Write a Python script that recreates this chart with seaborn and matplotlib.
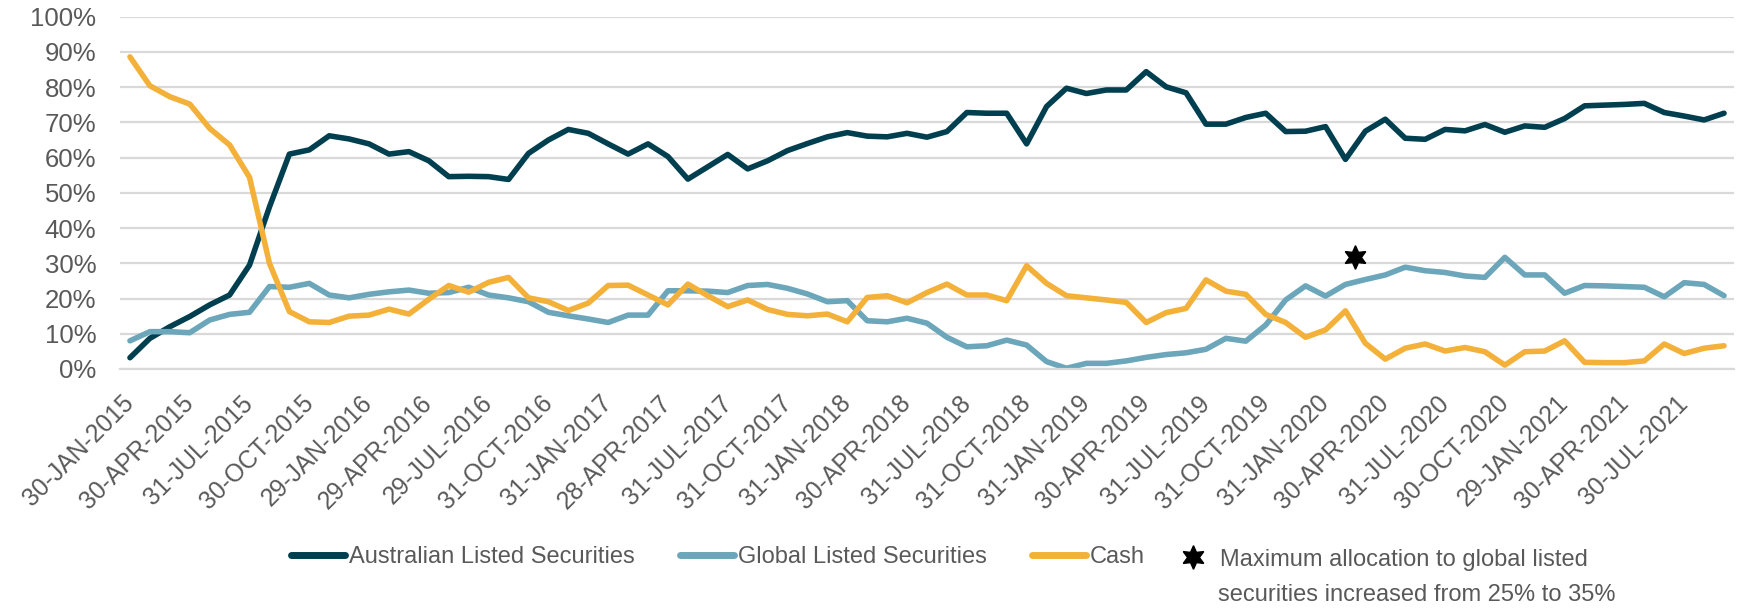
import numpy as np
import pandas as pd
import matplotlib
matplotlib.use('Agg')
import matplotlib.pyplot as plt
from matplotlib.lines import Line2D
from matplotlib.ticker import FixedLocator, PercentFormatter
import seaborn as sns

sns.set_style('white')
plt.rcParams['font.family'] = ['Liberation Sans', 'DejaVu Sans']

# tick labels every 3rd month (monthly data Jan 2015 - Sep 2021)
tick_labels = ['30-JAN-2015', '30-APR-2015', '31-JUL-2015', '30-OCT-2015',
               '29-JAN-2016', '29-APR-2016', '29-JUL-2016', '31-OCT-2016',
               '31-JAN-2017', '28-APR-2017', '31-JUL-2017', '31-OCT-2017',
               '31-JAN-2018', '30-APR-2018', '31-JUL-2018', '31-OCT-2018',
               '31-JAN-2019', '30-APR-2019', '31-JUL-2019', '31-OCT-2019',
               '31-JAN-2020', '30-APR-2020', '31-JUL-2020', '30-OCT-2020',
               '29-JAN-2021', '30-APR-2021', '30-JUL-2021']

# allocations in %
australian = [3.2, 8.7, 12.0, 14.9, 18.2, 21.0, 29.5, 46.0, 61.0, 62.2,
              66.2, 65.3, 63.9, 61.0, 61.7, 59.1, 54.6, 54.7, 54.6, 53.8,
              61.2, 65.0, 68.0, 66.9, 63.9, 61.0, 63.9, 60.3, 53.9, 57.4,
              60.9, 56.8, 59.1, 62.0, 64.0, 65.9, 67.1, 66.1, 65.9, 66.9,
              65.8, 67.4, 72.8, 72.6, 72.6, 63.9, 74.5, 79.7, 78.2, 79.2,
              79.2, 84.4, 80.1, 78.4, 69.5, 69.5, 71.4, 72.6, 67.4, 67.5,
              68.8, 59.5, 67.5, 70.9, 65.5, 65.2, 68.0, 67.6, 69.4, 67.2,
              69.0, 68.6, 71.1, 74.7, 74.9, 75.1, 75.4, 72.8, 71.8, 70.7,
              72.6]
global_ = [8.0, 10.6, 10.6, 10.3, 13.9, 15.5, 16.1, 23.4, 23.2, 24.3,
           21.0, 20.2, 21.2, 21.9, 22.4, 21.5, 21.7, 23.2, 21.0, 20.2,
           19.1, 16.1, 15.1, 14.2, 13.2, 15.3, 15.3, 22.2, 22.2, 22.1,
           21.7, 23.7, 24.0, 22.9, 21.3, 19.1, 19.4, 13.7, 13.4, 14.4,
           13.0, 9.0, 6.3, 6.6, 8.2, 6.8, 2.1, 0.2, 1.6, 1.6,
           2.3, 3.3, 4.1, 4.6, 5.6, 8.7, 7.9, 12.5, 19.6, 23.6,
           20.7, 24.0, 25.4, 26.7, 28.9, 27.9, 27.4, 26.4, 26.0, 31.7,
           26.7, 26.7, 21.5, 23.7, 23.6, 23.4, 23.2, 20.5, 24.5, 24.0,
           20.8]
cash = [88.6, 80.4, 77.3, 75.2, 68.3, 63.6, 54.4, 30.0, 16.3, 13.4,
        13.2, 15.0, 15.3, 17.0, 15.6, 19.8, 23.7, 21.8, 24.6, 26.0,
        20.2, 19.1, 16.6, 18.7, 23.7, 23.8, 21.0, 18.2, 24.1, 20.8,
        17.7, 19.6, 16.9, 15.5, 15.1, 15.6, 13.4, 20.3, 20.8, 18.8,
        21.7, 24.1, 21.0, 21.0, 19.4, 29.3, 24.3, 20.8, 20.2, 19.6,
        18.9, 13.2, 16.0, 17.2, 25.3, 22.1, 21.2, 15.5, 13.2, 9.0,
        11.1, 16.5, 7.3, 2.8, 5.9, 7.1, 5.1, 6.1, 4.9, 1.1,
        4.9, 5.1, 8.0, 1.9, 1.8, 1.8, 2.3, 7.1, 4.4, 5.9,
        6.6]

series_names = ['Australian Listed Securities', 'Global Listed Securities', 'Cash']
colors = ['#003f4f', '#6ca6ba', '#f4b13a']
star_x, star_y = 61.5, 31.7
star_note = ['Maximum allocation to global listed',
             'securities increased from 25% to 35%']

n = len(australian)
df = pd.DataFrame({
    'idx': np.tile(np.arange(n), 3),
    'value': np.concatenate([australian, global_, cash]) / 100,
    'series': np.repeat(series_names, n),
})

text_col = '#595959'
grid_col = '#d9d9d9'
W, H = 1741, 608

def fx(px):
    return px / W

def fy(py):
    return 1 - py / H

fig = plt.figure(figsize=(W / 100, H / 100), dpi=100)
ax = fig.add_axes([fx(120), fy(369), (1734 - 120) / W, (369 - 16.7) / H])

sns.lineplot(data=df, x='idx', y='value', hue='series', palette=colors,
             linewidth=4.0, legend=False, ax=ax)
ax.plot(star_x, star_y / 100, marker=(6, 1, 0), color='black', markersize=17,
        linestyle='none', zorder=5)

ax.set_xlim(-0.5, n - 0.5)
ax.set_ylim(0, 1)
ax.set_xlabel('')
ax.set_ylabel('')

ax.yaxis.set_major_locator(FixedLocator(np.arange(0, 1.01, 0.1)))
ax.yaxis.set_major_formatter(PercentFormatter(1.0, decimals=0))
ax.grid(axis='y', color=grid_col, linewidth=1.6)
ax.set_axisbelow(True)
ax.tick_params(axis='y', length=0, pad=17, labelsize=18.5, labelcolor=text_col)

ax.set_xticks(np.arange(0, n, 3))
ax.set_xticklabels(tick_labels, rotation=45, ha='right', va='center',
                   rotation_mode='anchor')
ax.set_xticks(np.arange(-0.5, n, 1), minor=True)
ax.tick_params(axis='x', which='major', length=0, pad=22, labelsize=17.7,
               labelcolor=text_col)
ax.tick_params(axis='x', which='minor', length=8, width=1.5, color=grid_col)

for s in ['top', 'right', 'left']:
    ax.spines[s].set_visible(False)
ax.spines['bottom'].set_color(grid_col)
ax.spines['bottom'].set_linewidth(1.6)

# legend for the three series
handles = [Line2D([], [], color=c, linewidth=5, solid_capstyle='round') for c in colors]
fig.legend(handles, series_names, loc='center',
           bbox_to_anchor=(fx(718), fy(557)), ncol=3, frameon=False,
           fontsize=17, handlelength=2.3, handletextpad=0.17,
           columnspacing=1.9, labelcolor=text_col, borderpad=0, borderaxespad=0)

# star note
fig.add_artist(Line2D([fx(1193)], [fy(557)], marker=(6, 1, 0), color='black',
                      markersize=17, linestyle='none', transform=fig.transFigure))
fig.text(fx(1220), fy(560), star_note[0], fontsize=17, color=text_col,
         ha='left', va='center')
fig.text(fx(1218), fy(595), star_note[1], fontsize=17, color=text_col,
         ha='left', va='center')

fig.savefig('out.png', dpi=100)
